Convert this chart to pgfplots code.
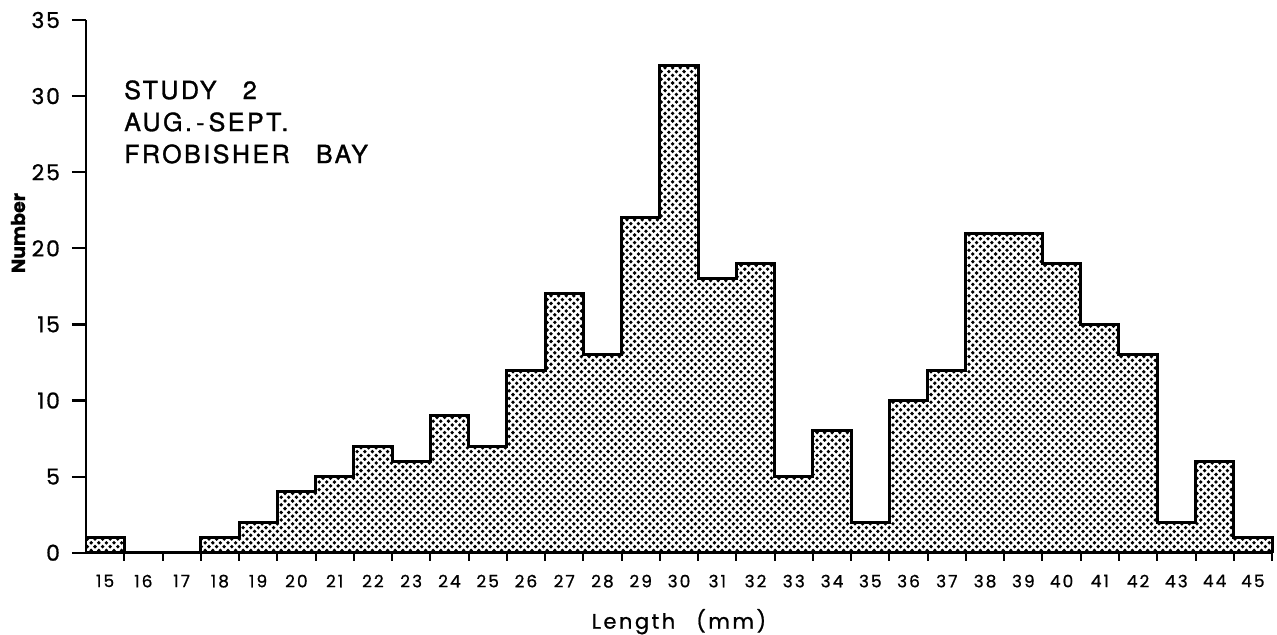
\documentclass[border=0pt]{standalone}
\usepackage{pgfplots}
\pgfplotsset{compat=1.18}
\usepackage{pgfplotstable}
\usepackage{fontspec}
\setmainfont{Poppins}[FakeBold=0.6]
\newfontfamily\notefont{TeX Gyre Heros}[LetterSpace=10, FakeBold=1.2]
\newfontfamily\spacedfont{Poppins}[LetterSpace=12, FakeBold=0.8]
\newfontfamily\tickfont{Poppins}[LetterSpace=8, FakeBold=0.8]
\usetikzlibrary{patterns}

% halftone screen used for the histogram fill
\pgfdeclarepatternformonly{halftone}{\pgfqpoint{-0.95pt}{-0.95pt}}{\pgfqpoint{2.85pt}{2.85pt}}{\pgfqpoint{3.8pt}{3.8pt}}{%
  \pgfpathcircle{\pgfqpoint{0pt}{0pt}}{0.95pt}%
  \pgfpathcircle{\pgfqpoint{1.9pt}{1.9pt}}{0.95pt}%
  \pgfusepath{fill}}

% length class (mm) and number of animals; the last row closes the outline at 45.5
\pgfplotstableread{
len count
15 1
16 0
17 0
18 1
19 2
20 4
21 5
22 7
23 6
24 9
25 7
26 12
27 17
28 13
29 22
30 32
31 18
32 19
33 5
34 8
35 2
36 10
37 12
38 21
39 21
40 19
41 15
42 13
43 2
44 6
45 1
46 0
}\lengths

\begin{document}
\begin{tikzpicture}
\begin{axis}[
  at={(0,0)}, anchor=south west,
  scale only axis,
  width=593pt, height=266.35pt,
  xmin=14.5, xmax=45.5, ymin=0, ymax=35,
  axis lines=left,
  axis line style={line width=1.3pt, -},
  tick align=outside,
  ytick={0,5,...,35},
  xtick={15,...,45},
  minor xtick={15.5,16.5,...,45.5},
  major tick length=7pt,
  minor tick length=4pt,
  major x tick style={draw=none},
  minor x tick style={line width=1pt, black},
  major y tick style={line width=1.1pt, black},
  /pgf/number format/assume math mode=true,
  yticklabel style={font=\tickfont\fontsize{11}{13}\selectfont, xshift=-2.5pt},
  xticklabel style={font=\spacedfont\fontsize{8.5}{10}\selectfont, yshift=-0.5pt},
  ylabel={\bfseries Number},
  ylabel style={at={(axis description cs:-0.0573,0.6)}, anchor=center, rotate=0, font=\fontsize{9.5}{11}\selectfont},
  xlabel={Length\hspace{1em}(mm)},
  xlabel style={at={(axis description cs:0.5,0)}, anchor=center, yshift=-34.5pt, font=\spacedfont\fontsize{10.5}{12}\selectfont},
  clip=false,
]
  % shaded histogram
  \addplot[const plot, draw=none, pattern=halftone, pattern color=black]
    table[x expr=\thisrow{len}-0.5, y=count] {\lengths} \closedcycle;
  % stepped outline
  \addplot[const plot, line width=1.5pt, black]
    table[x expr=\thisrow{len}-0.5, y=count] {\lengths};

  \node[anchor=north west, inner sep=0pt, align=left,
        font=\notefont\fontsize{12.5}{16}\selectfont]
    at (axis cs:15.49,31.06)
    {STUDY\hspace{1.05em}2\\AUG.\,-\,SEPT.\\FROBISHER\hspace{1.05em}BAY};
\end{axis}
\pgfresetboundingbox
\path[use as bounding box] (-43pt,-40.65pt) rectangle (595.5pt,276.35pt);
\end{tikzpicture}
\end{document}
